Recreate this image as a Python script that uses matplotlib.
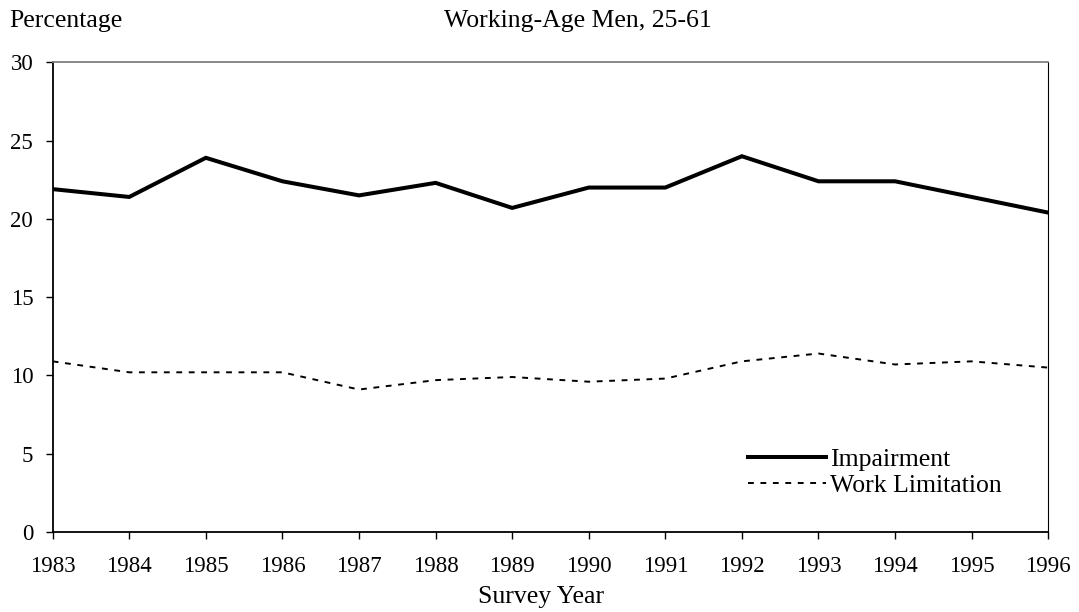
#!/usr/bin/python3

import numpy as np
import matplotlib
matplotlib.use("Agg")
import matplotlib.pyplot as plt

# values
years = np.arange(1983, 1997)
impairment = [21.9, 21.4, 23.9, 22.4, 21.5, 22.3, 20.7,
              22.0, 22.0, 24.0, 22.4, 22.4, 21.4, 20.4]
work_limitation = [10.9, 10.2, 10.2, 10.2, 9.1, 9.7, 9.9,
                   9.6, 9.8, 10.9, 11.4, 10.7, 10.9, 10.5]
y_ticks = [0, 5, 10, 15, 20, 25, 30]


def main():
    plt.rcParams["font.family"] = ["Liberation Serif", "DejaVu Serif"]
    text_size = 18.5
    tick_size = 16.5

    fig = plt.figure(figsize=(10.79, 6.12), dpi=100)
    ax = fig.add_axes([0.0488, 0.1307, 0.9227, 0.7675])

    ax.plot(years, impairment, color="black", lw=2.9,
            solid_joinstyle="miter", label="Impairment")
    ax.plot(years, work_limitation, color="black", lw=1.4,
            linestyle=(0, (3, 3.4)), label="Work Limitation")

    ax.set_xlim(1983, 1996)
    ax.set_ylim(0, 30)
    ax.set_xticks(years)
    ax.set_yticks(y_ticks)
    ax.tick_params(direction="out", length=5, width=1, color="black",
                   labelsize=tick_size)
    ax.tick_params(axis="x", pad=12)
    ax.tick_params(axis="y", pad=9)

    for side in ("left", "bottom"):
        ax.spines[side].set_linewidth(1.3)
        ax.spines[side].set_color("black")
    ax.spines["top"].set_color("#808080")
    ax.spines["top"].set_linewidth(1.3)
    ax.spines["right"].set_color("black")
    ax.spines["right"].set_linewidth(0.8)

    fig.text(0.5014, 0.0152, "Survey Year", fontsize=text_size,
             ha="center", va="baseline")
    fig.text(0.0083, 0.9559, "Percentage", fontsize=text_size,
             ha="left", va="baseline")
    fig.text(0.5352, 0.9559, "Working-Age Men, 25-61", fontsize=text_size,
             ha="center", va="baseline")

    ax.legend(loc="center left", bbox_to_anchor=(0.698, 0.1267),
              frameon=False, borderpad=0, borderaxespad=0,
              handlelength=3.05, handletextpad=0.16, labelspacing=0.12,
              fontsize=text_size)

    fig.savefig("out.png", dpi=100)


if __name__ == "__main__":
    main()
